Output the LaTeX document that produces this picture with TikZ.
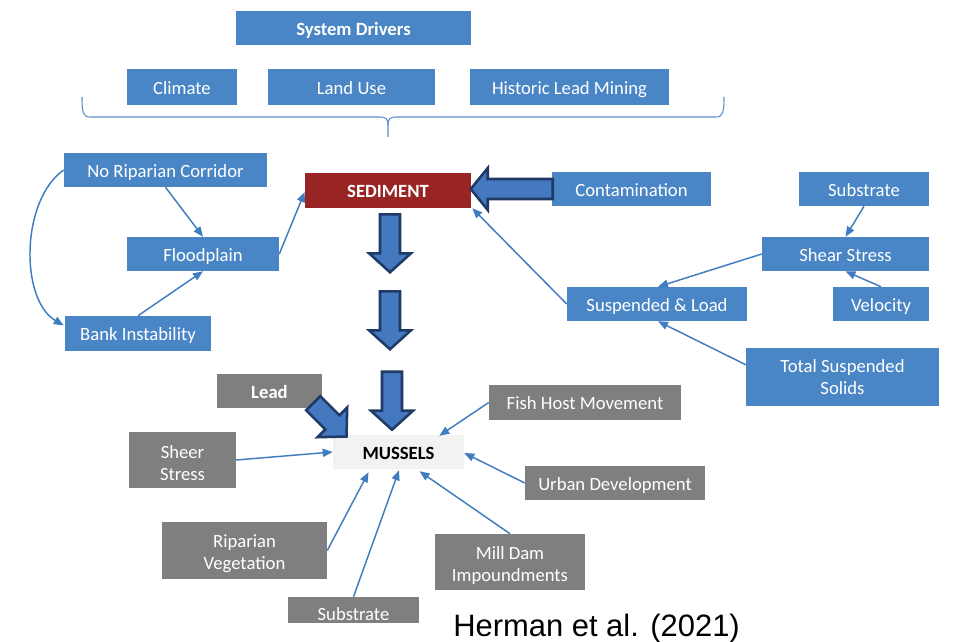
\documentclass[tikz,border=0pt]{standalone}
\usepackage{fontspec}
\setmainfont{Carlito}
\newfontfamily\citefont{Liberation Sans}
\usetikzlibrary{arrows.meta,calc}
\definecolor{boxblue}{HTML}{4A86C6}
\definecolor{boxgray}{HTML}{7F7F7F}
\definecolor{sedred}{HTML}{992424}
\definecolor{musgray}{HTML}{F2F2F2}
\definecolor{linkblue}{HTML}{3F7DC0}
\definecolor{bafill}{HTML}{4479C0}
\definecolor{baline}{HTML}{1F3A66}
\definecolor{bracecol}{HTML}{5B8FCB}
% raises the top of the first line of a two-line label
\newcommand\toplift{\rule{0pt}{15pt}}
\begin{document}
\begin{tikzpicture}[x=0.75pt,y=-0.75pt,
  box/.style={rectangle, inner sep=0pt, align=center, text=white,
    font=\fontsize{14}{16.5}\selectfont},
  one/.style={text height=11.8pt, text depth=1.2pt},
  sz/.style 2 args={minimum width=#1*0.75pt, minimum height=#2*0.75pt},
  bluebox/.style={box, fill=boxblue},
  graybox/.style={box, fill=boxgray},
  link/.style={draw=linkblue, line width=1.1pt, -{Triangle[length=7.5pt,width=6pt]}},
  blockarrow/.style={fill=bafill, draw=baline, line width=1.9pt, line join=miter},
  pics/barrow/.style n args={2}{code={
    \draw[blockarrow] (0pt,-7.5pt) -- ({(#1-#2)*0.75pt},-7.5pt)
      -- ({(#1-#2)*0.75pt},-15.75pt) -- ({#1*0.75pt},0pt)
      -- ({(#1-#2)*0.75pt},15.75pt) -- ({(#1-#2)*0.75pt},7.5pt)
      -- (0pt,7.5pt) -- cycle;
  }}
]
\useasboundingbox (0,0) rectangle (954,642);
\fill[white] (0,0) rectangle (954,642);

% system drivers
\node[bluebox, one, sz={235}{34}] (sd) at (353.5,28) {\textbf{System Drivers}};
\node[bluebox, one, sz={110}{36}] (clim) at (182,87) {Climate};
\node[bluebox, one, sz={167}{36}] (land) at (351.5,87) {Land Use};
\node[bluebox, one, sz={199}{36}] (hist) at (569.5,87) {Historic Lead Mining};

% brace grouping the drivers
\draw[bracecol, line width=0.8pt]
  (82,97) .. controls (82,112) and (83,117) .. (90,117) -- (380,117)
  .. controls (386,117) and (388,119) .. (388,125) -- (388,137);
\draw[bracecol, line width=0.8pt]
  (388,125) .. controls (388,119) and (390,117) .. (396,117) -- (716,117)
  .. controls (723,117) and (724,112) .. (724,97);

% sediment side
\node[box, one, fill=sedred, sz={166}{35}] (sed) at (388,190.5) {\textbf{SEDIMENT}};
\node[bluebox, one, sz={203}{34}] (nrc) at (165.5,170) {No Riparian Corridor};
\node[bluebox, one, sz={152}{34}] (flood) at (203,254) {Floodplain};
\node[bluebox, one, sz={146}{35}] (bank) at (138,333.5) {Bank Instability};
\node[bluebox, one, sz={159}{34}] (cont) at (631.5,189) {Contamination};
\node[bluebox, one, sz={130}{34}] (subA) at (864,189) {Substrate};
\node[bluebox, one, sz={167}{34}] (shear) at (845.5,254) {Shear Stress};
\node[bluebox, one, sz={96}{34}] (vel) at (881,304) {Velocity};
\node[bluebox, one, sz={180}{34}] (susp) at (657,304) {Suspended \& Load};
\node[bluebox, sz={193}{58}] (tss) at (842.5,377) {Total Suspended\\Solids};

% mussels side
\node[box, one, fill=musgray, text=black, sz={131}{34}] (mus) at (398.5,452) {\textbf{MUSSELS}};
\node[graybox, one, sz={105}{34}] (lead) at (269.5,391) {\textbf{Lead}};
\node[graybox, sz={107}{56}] (sheer) at (182.5,460) {\toplift Sheer\\Stress};
\node[graybox, sz={165}{57}] (rip) at (244.5,550.5) {\toplift Riparian\\Vegetation};
\node[graybox, one, text height=17.3pt, sz={131}{26}] (subB) at (353.5,610) {Substrate};
\node[graybox, one, sz={192}{35}] (fish) at (585,402.5) {Fish Host Movement};
\node[graybox, one, sz={180}{34}] (urban) at (615,483) {Urban Development};
\node[graybox, sz={150}{56}] (mill) at (510,562) {\toplift Mill Dam\\Impoundments};

\node[anchor=base west, inner sep=0pt, font=\citefont\fontsize{23.2}{28}\selectfont]
  (cite) at (453,636) {Herman et al. (2021)};

% links toward sediment
\draw[link] (nrc.west) .. controls ($(nrc.west)+(-43,30)$) and ($(bank.west)+(-45,-34)$) .. ($(bank.west)+(-1,-8)$);
\draw[link] (nrc.south) -- (flood.north);
\draw[link] (bank.north) -- (flood.south);
\draw[link] (flood.east) -- ($(sed.west)+(0,1.5)$);
\draw[link] (susp.west) -- ($(sed.south east)+(1,0)$);
\draw[link] (shear.west) -- ($(susp.north)+(1,0)$);
\draw[link] (subA.south) -- (shear.north);
\draw[link] (vel.north) -- (shear.south);
\draw[link] ($(tss.north west)+(0,17)$) -- ($(susp.south)+(1,0)$);

% links toward mussels
\draw[link] (fish.west) -- ($(mus.north east)+(-25,1)$);
\draw[link] (urban.west) -- ($(mus.east)+(0,1)$);
\draw[link] (mill.north) -- ($(mus.south)+(21,2)$);
\draw[link] (subB.north) -- ($(mus.south)+(0.5,1)$);
\draw[link] (rip.east) -- ($(mus.south)+(-30,3)$);
\draw[link] (sheer.east) -- (mus.west);

% block arrows
\pic[rotate=-90] at ($(sed.south)+(2,6)$) {barrow={58}{19}};
\pic[rotate=-90] at ($(sed.south)+(2,83)$) {barrow={58}{19}};
\pic[rotate=-90] at ($(mus.north)+(-6.5,-63)$) {barrow={58}{19}};
\pic[rotate=180] at ($(cont.west)+(1,0)$) {barrow={82}{17}};
\pic[rotate=-45] at ($(lead.south east)+(-9,-5)$) {barrow={47}{20}};
\end{tikzpicture}
\end{document}
